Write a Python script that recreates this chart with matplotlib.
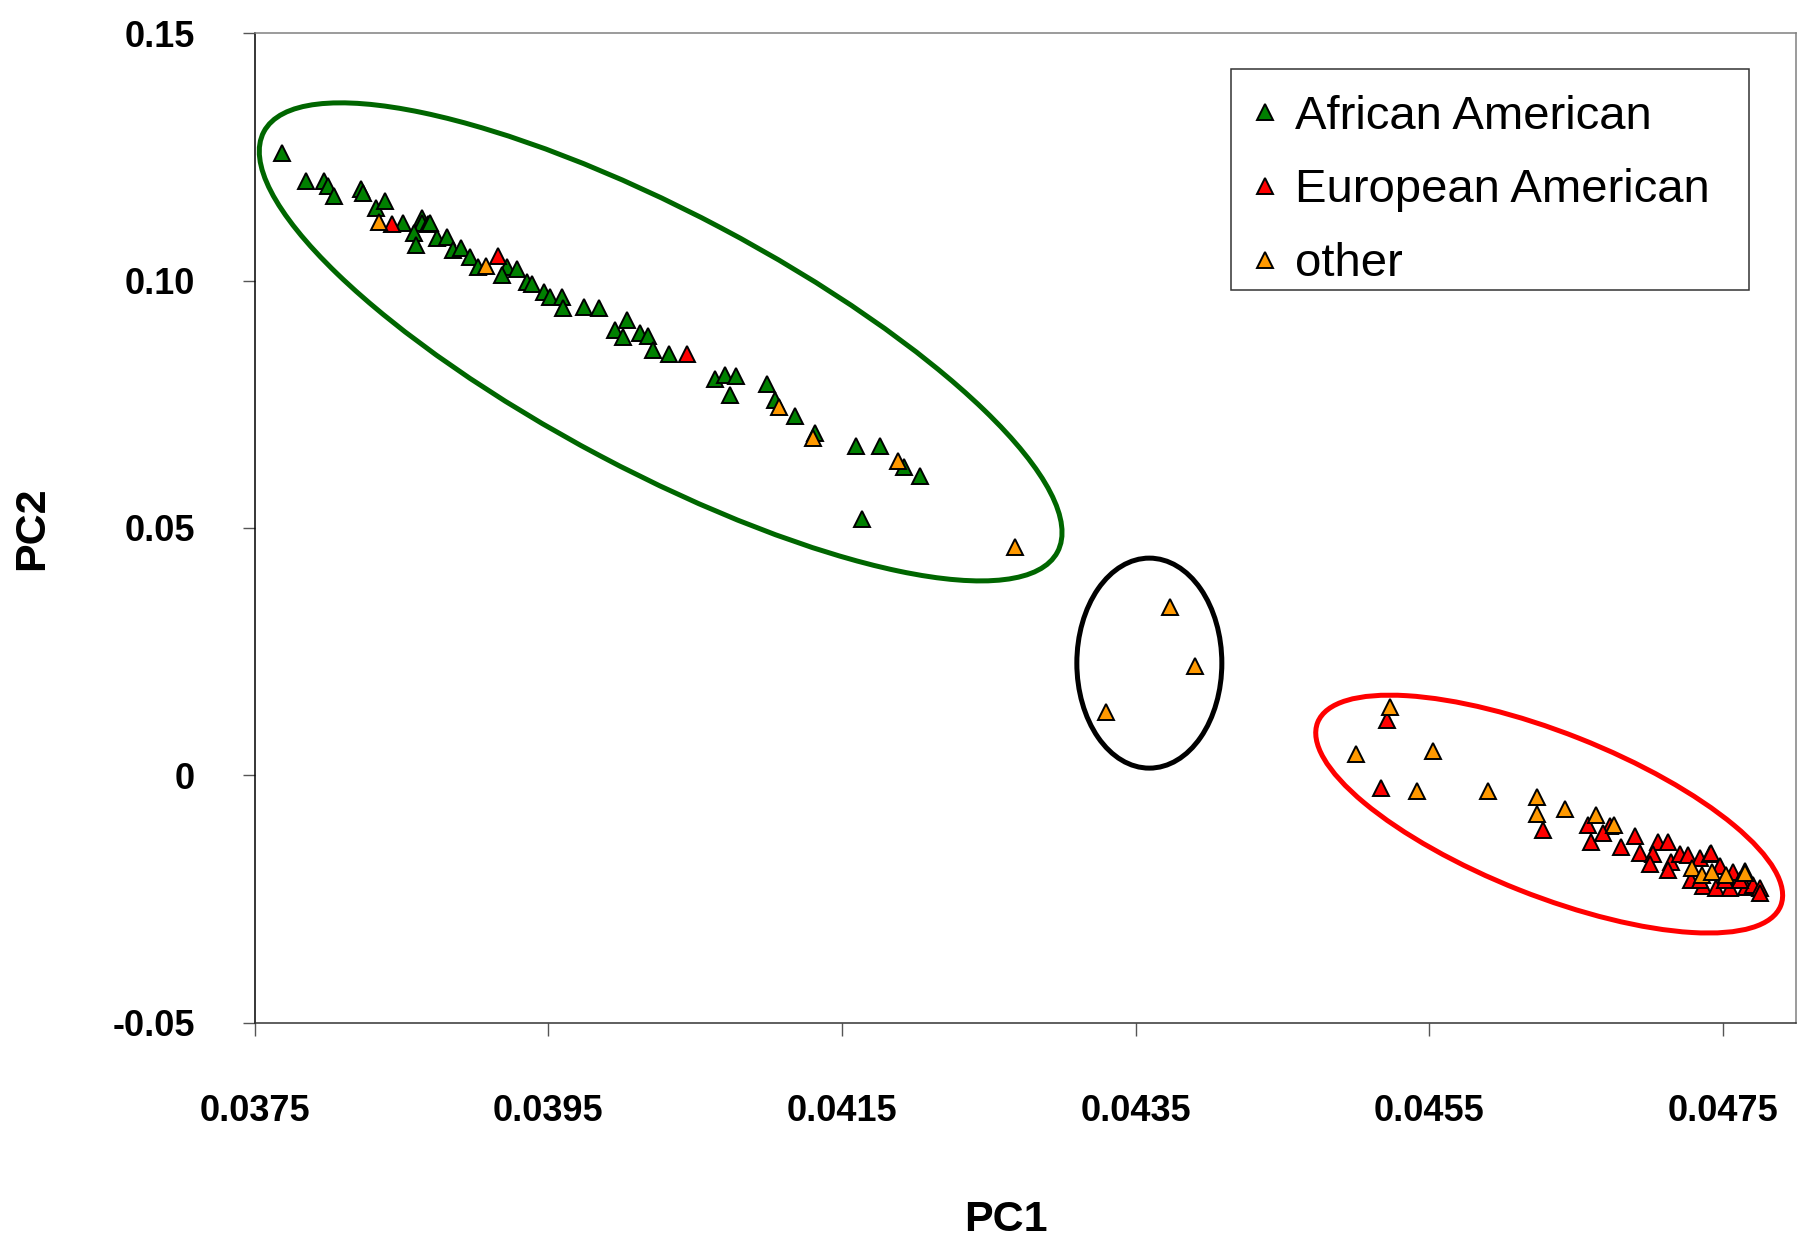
import numpy as np
import matplotlib
matplotlib.use("Agg")
import matplotlib.pyplot as plt
from matplotlib.patches import Ellipse, Rectangle
from matplotlib.transforms import ScaledTranslation

plt.rcParams['font.family'] = ['Liberation Sans', 'DejaVu Sans']

# PC1 / PC2 coordinates
african_x = [0.037685, 0.037849, 0.037974, 0.038002, 0.038039, 0.038223, 0.038235, 0.038327,
             0.038389, 0.038512, 0.038638, 0.038638, 0.038683, 0.038585, 0.038599, 0.038740,
             0.038694, 0.038813, 0.038853, 0.038904, 0.038966, 0.039023, 0.039216, 0.039284,
             0.039182, 0.039353, 0.039387, 0.039470, 0.039511, 0.039591, 0.039598, 0.039743,
             0.039847, 0.040033, 0.039954, 0.040010, 0.040124, 0.040180, 0.040214, 0.040325,
             0.040634, 0.040703, 0.040777, 0.040740, 0.040986, 0.041043, 0.041179, 0.041315,
             0.041594, 0.041758, 0.041921, 0.042030, 0.041633]
african_y = [0.1258, 0.1202, 0.1202, 0.1190, 0.1171, 0.1184, 0.1176, 0.1147,
             0.1161, 0.1117, 0.1127, 0.1116, 0.1114, 0.1096, 0.1071, 0.1085,
             0.1116, 0.1088, 0.1061, 0.1066, 0.1048, 0.1027, 0.1027, 0.1023,
             0.1011, 0.0996, 0.0992, 0.0976, 0.0966, 0.0967, 0.0944, 0.0947,
             0.0945, 0.0920, 0.0900, 0.0886, 0.0893, 0.0888, 0.0859, 0.0852,
             0.0802, 0.0809, 0.0808, 0.0769, 0.0791, 0.0759, 0.0727, 0.0692,
             0.0666, 0.0666, 0.0624, 0.0605, 0.0518]

european_x = [0.038433, 0.039159, 0.040447,
              0.045211, 0.045169, 0.046274, 0.046578, 0.046603, 0.046728, 0.046680,
              0.046898, 0.046807, 0.046932, 0.047056, 0.047124, 0.047022, 0.047148,
              0.047000, 0.047124, 0.047204, 0.047261, 0.047340, 0.047408, 0.047420,
              0.047284, 0.047363, 0.047476, 0.047565, 0.047647, 0.047454, 0.047544,
              0.047658, 0.047703, 0.047340, 0.047613, 0.047511, 0.047749, 0.047750]
european_y = [0.1114, 0.1049, 0.0852,
              0.0113, -0.0026, -0.0110, -0.0100, -0.0134, -0.0102, -0.0116,
              -0.0122, -0.0144, -0.0157, -0.0135, -0.0135, -0.0159, -0.0174,
              -0.0179, -0.0191, -0.0159, -0.0161, -0.0167, -0.0159, -0.0157,
              -0.0211, -0.0223, -0.0183, -0.0195, -0.0193, -0.0228, -0.0227,
              -0.0226, -0.0221, -0.0211, -0.0211, -0.0211, -0.0227, -0.0237]

other_x = [0.038350, 0.039077, 0.041072, 0.041300, 0.041882, 0.042677,
           0.043737, 0.043902, 0.043301,
           0.045230, 0.045003, 0.045525, 0.045418, 0.045899, 0.046233, 0.046233,
           0.046421, 0.046632, 0.046755, 0.047291, 0.047359, 0.047427, 0.047522,
           0.047647]
other_y = [0.1119, 0.1029, 0.0745, 0.0682, 0.0636, 0.0462,
           0.0340, 0.0222, 0.0128,
           0.0139, 0.0043, 0.0050, -0.0031, -0.0031, -0.0043, -0.0077,
           -0.0068, -0.0079, -0.0100, -0.0186, -0.0201, -0.0196, -0.0201,
           -0.0197]

xtick_vals = [0.0375, 0.0395, 0.0415, 0.0435, 0.0455, 0.0475]
xtick_labels = ["0.0375", "0.0395", "0.0415", "0.0435", "0.0455", "0.0475"]
ytick_vals = [-0.05, 0, 0.05, 0.10, 0.15]
ytick_labels = ["-0.05", "0", "0.05", "0.10", "0.15"]

fig = plt.figure(figsize=(17.97, 12.46), dpi=100)
ax = fig.add_axes([0.1417, 0.179, 0.858, 0.7945])

mk = dict(marker='^', markersize=12, markeredgecolor='black', markeredgewidth=1.4,
          linestyle='none')
ax.plot(african_x, african_y, markerfacecolor='#008000', label='African American', **mk)
ax.plot(european_x, european_y, markerfacecolor='#FF0000', label='European American', **mk)
ax.plot(other_x, other_y, markerfacecolor='#FF9900', label='other', **mk)

# cluster ellipses, sized in inches around a data-space centre
def ring(cx, cy, w, h, ang, col):
    tr = fig.dpi_scale_trans + ScaledTranslation(cx, cy, ax.transData)
    ax.add_patch(Ellipse((0, 0), w, h, angle=ang, transform=tr, fill=False,
                         edgecolor=col, linewidth=3.6, zorder=1))

ring(0.040265, 0.0876, 8.98, 2.58, -27.9, '#006600')
ring(0.043593, 0.0227, 1.45, 2.10, 0, 'black')
ring(0.046316, -0.0078, 4.98, 1.63, -21.6, '#FF0000')

ax.set_xlim(0.0375, 0.0480)
ax.set_ylim(-0.05, 0.15)
ax.set_xticks(xtick_vals)
ax.set_xticklabels(xtick_labels)
ax.set_yticks(ytick_vals)
ax.set_yticklabels(ytick_labels)
ax.tick_params(axis='x', direction='out', length=9, width=1, color='#555555', pad=42.5,
               labelsize=26)
ax.tick_params(axis='y', direction='out', length=9, width=1, color='#555555', pad=34,
               labelsize=26)
for lab in ax.get_xticklabels() + ax.get_yticklabels():
    lab.set_fontweight('bold')

ax.spines['left'].set_color('black')
ax.spines['bottom'].set_color('#333333')
ax.spines['top'].set_color('#808080')
ax.spines['right'].set_color('#808080')
for s in ax.spines.values():
    s.set_linewidth(1.1)

ax.set_xlabel('PC1', fontsize=31, fontweight='bold', va='center')
ax.xaxis.set_label_coords(0.4875, -0.199)
ax.set_ylabel('PC2', fontsize=31, fontweight='bold', va='center')
ax.yaxis.set_label_coords(-0.1444, 0.5)

# legend box drawn separately so the padding can match the original
ax.add_patch(Rectangle((0.6335, 0.7404), 0.3354, 0.2232, transform=ax.transAxes,
                       facecolor='white', edgecolor='#333333', linewidth=1.1,
                       zorder=4.5))
leg = ax.legend(loc='upper left', bbox_to_anchor=(0.6335, 0.9474),
                fontsize=34, borderpad=0.2, handlelength=1.04,
                handletextpad=0.1, labelspacing=0.63, frameon=False,
                borderaxespad=0)

fig.savefig('out.png', dpi=100)
